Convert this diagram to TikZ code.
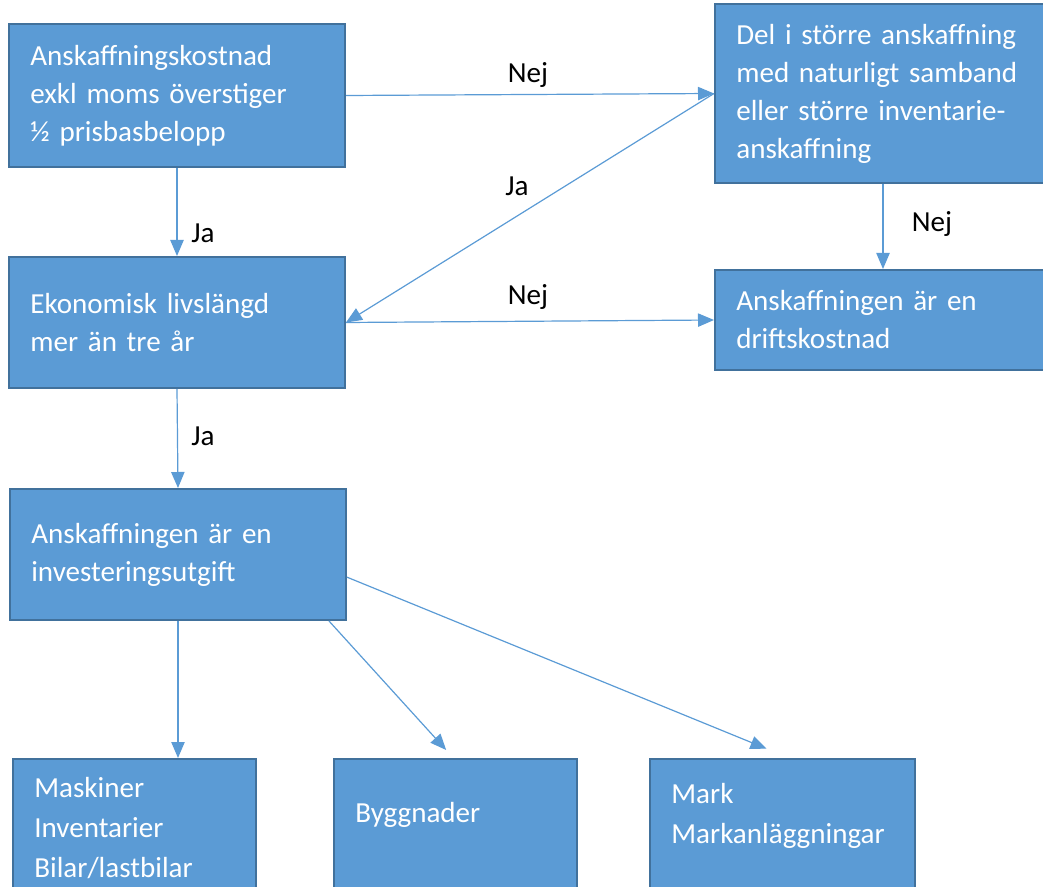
\documentclass[tikz,border=0pt]{standalone}
\usepackage{fontspec}
\setmainfont{Carlito}
\usetikzlibrary{arrows.meta}
\definecolor{boxblue}{HTML}{5B9BD5}
\definecolor{boxline}{HTML}{41719C}
\begin{document}
\begin{tikzpicture}[x=0.75pt, y=-0.75pt, font=\fontsize{21.8}{28.5}\selectfont]
      \tikzstyle{box}=[draw=boxline, line width=1.5pt, fill=boxblue, text=white, align=left, inner xsep=16pt, text width=220pt, minimum width=252pt]
      \tikzstyle{lowbox}=[box, anchor=north west, text height=15pt, text depth=110pt, font=\fontsize{21.8}{30}\selectfont]
      \tikzstyle{answer}=[text=black, inner sep=0pt]
      \tikzstyle{flow}=[draw=boxblue, line width=0.9pt, -{Triangle[length=12pt,width=10pt]}]
      \clip (0,0) rectangle (1043,887);
      \node[box, minimum height=107.25pt] (kostnad) at (177,95.5) {Anskaffningskostnad\\exkl moms överstiger\\½ prisbasbelopp};
      \node[box, minimum height=134.25pt] (storre) at (883,93.5) {Del i större anskaffning\\med naturligt samband\\eller större inventarie-\\anskaffning};
      \node[box, minimum height=98.25pt] (livslangd) at (177,322.5) {Ekonomisk livslängd\\mer än tre år};
      \node[box, minimum height=75pt] (drift) at (883,320) {Anskaffningen är en\\driftskostnad};
      \node[box, minimum height=98.25pt] (invest) at (178,554.5) {Anskaffningen är en\\investeringsutgift};
      \node[lowbox, minimum width=182.25pt, text width=150.25pt, inner ysep=13.5pt] (maskiner) at (12,758) {Maskiner\\Inventarier\\Bilar/lastbilar};
      \node[lowbox, minimum width=182.25pt, text width=150.25pt, inner ysep=32.25pt] (byggnader) at (333,758) {Byggnader};
      \node[lowbox, minimum width=198.75pt, text width=166.75pt, inner ysep=18pt] (mark) at (649,758) {Mark\\Markanläggningar};
      \node[answer] (nej1) at (528,75) {Nej};
      \node[answer] (ja1) at (203,233) {Ja};
      \node[answer] (ja2) at (517,186) {Ja};
      \node[answer] (nej2) at (528,297) {Nej};
      \node[answer] (nej3) at (932,224) {Nej};
      \node[answer] (ja3) at (203,436) {Ja};
      \draw[flow] (kostnad.east) -- (storre.west);
      \draw[flow] (kostnad) -- (livslangd);
      \draw[flow] (storre.west) -- (livslangd.east);
      \draw[flow] (livslangd.east) -- (drift.west);
      \draw[flow] (storre) -- (drift);
      \draw[flow] (livslangd.south) -- (invest.north);
      \draw[flow] (invest.south) -- (invest.south |- maskiner.north);
      \draw[flow] ([xshift=-13.5pt]invest.south east) -- ([xshift=-7pt,yshift=6pt]byggnader.north);
      \draw[flow] ([yshift=-17pt]invest.east) -- ([xshift=-12pt,yshift=7pt]mark.north);
\end{tikzpicture}
\end{document}
